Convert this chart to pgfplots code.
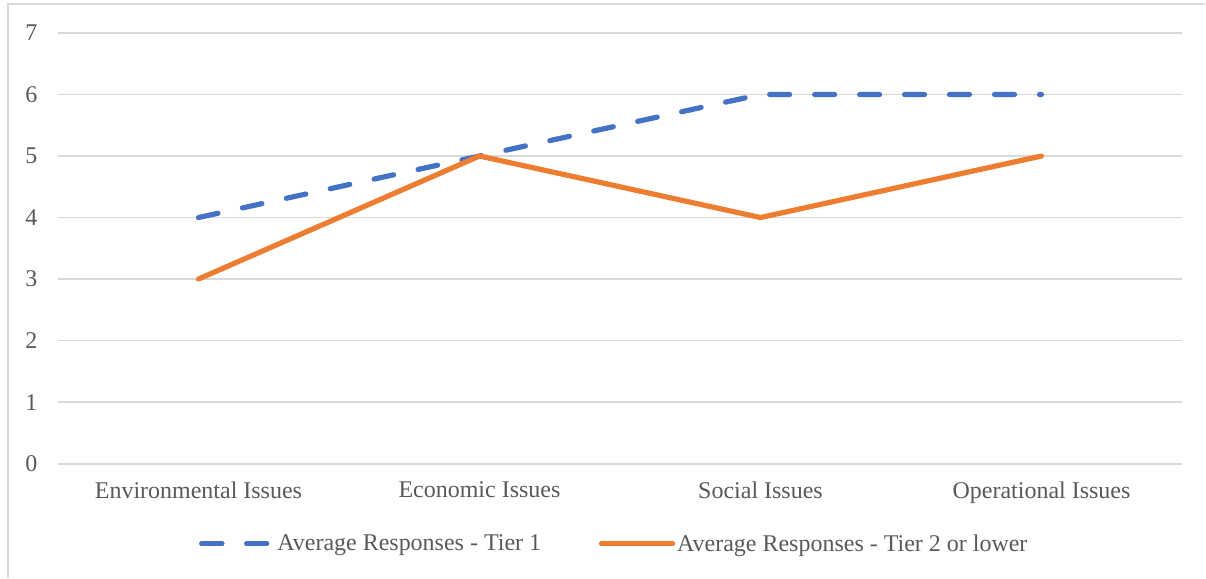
\documentclass[border=0pt]{standalone}
\usepackage{fontspec}
\setmainfont{Liberation Serif}
\usepackage{pgfplots}
\pgfplotsset{compat=1.18}
\definecolor{tierone}{HTML}{4472C4}
\definecolor{tiertwo}{HTML}{ED7D31}
\definecolor{gridgray}{HTML}{D9D9D9}
\definecolor{textgray}{HTML}{595959}
\begin{document}
\begin{tikzpicture}
\begin{axis}[
  scale only axis,
  width=1125bp, height=431bp,
  xmin=-0.5, xmax=3.5,
  ymin=0, ymax=7,
  xtick=data,
  xticklabels={Environmental Issues, Economic Issues, Social Issues, Operational Issues},
  ytick={0,1,...,7},
  ymajorgrids,
  grid style={gridgray, line width=1.8bp},
  axis line style={draw=none},
  major tick length=0pt,
  /pgf/number format/assume math mode=true,
  tick label style={font=\fontsize{24bp}{28bp}\selectfont, text=textgray},
  yticklabel style={xshift=-17bp},
  xticklabel style={yshift=-15bp},
  legend columns=2,
  legend style={at={(0.495,-0.186)}, anchor=center, draw=none, fill=none,
    font=\fontsize{24bp}{28bp}\selectfont, text=textgray,
    /tikz/every even column/.append style={column sep=56bp}},
  legend image code/.code={%
    \draw[#1] (0bp,0bp) -- (64bp,0bp);
    \path (0bp,0bp) -- (71bp,0bp);},
]
\addplot[tierone, line width=5.2bp, line cap=round, dash pattern=on 20bp off 25bp]
  coordinates {(0,4) (1,5) (2,6) (3,6)};
\addlegendentry{Average Responses - Tier 1}
\addplot[tiertwo, line width=5.2bp, line cap=round]
  coordinates {(0,3) (1,5) (2,4) (3,5)};
\addlegendentry{Average Responses - Tier 2 or lower}
\end{axis}
% panel edge along the top and left
\draw[gridgray, line width=2bp] (-50bp,-114bp) -- (-50bp,460bp) -- (1148bp,460bp);
\path (-58bp,-114bp) rectangle (1148bp,464bp);
\end{tikzpicture}
\end{document}
